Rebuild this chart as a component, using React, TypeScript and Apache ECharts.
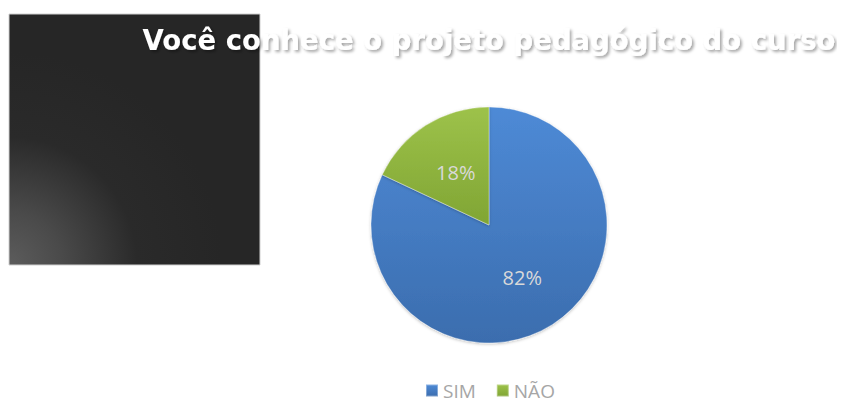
import React, { useEffect, useRef } from "react";
import * as echarts from "echarts";

const TITLE = "Você conhece o projeto pedagógico do curso";
const categories = ["SIM", "NÃO"];
const values = [82, 18];

const colorsTop = ["#4e8ad6", "#9dc24a"];
const colorsBottom = ["#3b6dae", "#80a534"];

export default function App() {
  const ref = useRef<HTMLDivElement>(null);
  useEffect(() => {
    if (!ref.current) return;
    const chart = echarts.init(ref.current, undefined, { renderer: "svg" });
    chart.setOption({
      animation: false,
      backgroundColor: "#ffffff",
      graphic: [
        {
          type: "rect",
          z: 0,
          shape: { x: 1, y: 6, width: 251, height: 251 },
          style: {
            fill: {
              type: "radial",
              x: 0,
              y: 1,
              r: 0.85,
              colorStops: [
                { offset: 0, color: "#5c5c5c" },
                { offset: 0.25, color: "#4a4a4a" },
                { offset: 0.6, color: "#2a2a2a" },
                { offset: 1, color: "#262626" },
              ],
            },
            stroke: "#d0d0d0",
            lineWidth: 1,
          },
        },
      ],
      title: {
        text: TITLE,
        left: 476,
        textAlign: "center",
        top: 13,
        z: 10,
        textStyle: {
          color: "#ffffff",
          fontFamily: "DejaVu Sans",
          fontWeight: "bold",
          fontSize: 27.5,
          textShadowColor: "rgba(0,0,0,0.35)",
          textShadowBlur: 3,
          textShadowOffsetX: 2,
          textShadowOffsetY: 2,
        },
      },
      legend: {
        top: 373,
        left: 417,
        padding: 0,
        icon: "rect",
        itemWidth: 12,
        itemHeight: 12,
        itemGap: 20,
        textStyle: {
          color: "#a6a6a6",
          fontSize: 19,
          fontFamily: "Open Sans",
        },
        data: categories,
      },
      series: [
        {
          type: "pie",
          center: [481, 217],
          radius: [0, 118],
          startAngle: 90,
          clockwise: true,
          label: {
            show: true,
            position: "inside",
            formatter: "{d}%",
            color: "#d9d9d9",
            fontSize: 20,
            fontFamily: "Open Sans",
          },
          labelLine: { show: false },
          itemStyle: {
            borderColor: "rgba(255,255,255,0.35)",
            borderWidth: 1,
            shadowColor: "rgba(0,0,0,0.25)",
            shadowBlur: 3,
            shadowOffsetY: 1,
          },
          data: categories.map((c, i) => ({
            name: c,
            value: values[i],
            itemStyle: {
              color: {
                type: "linear",
                x: 0,
                y: 0,
                x2: 0,
                y2: 1,
                colorStops: [
                  { offset: 0, color: colorsTop[i] },
                  { offset: 1, color: colorsBottom[i] },
                ],
              },
            },
          })),
        },
      ],
    });
    return () => chart.dispose();
  }, []);
  return <div ref={ref} style={{ width: 837, height: 395 }} />;
}
